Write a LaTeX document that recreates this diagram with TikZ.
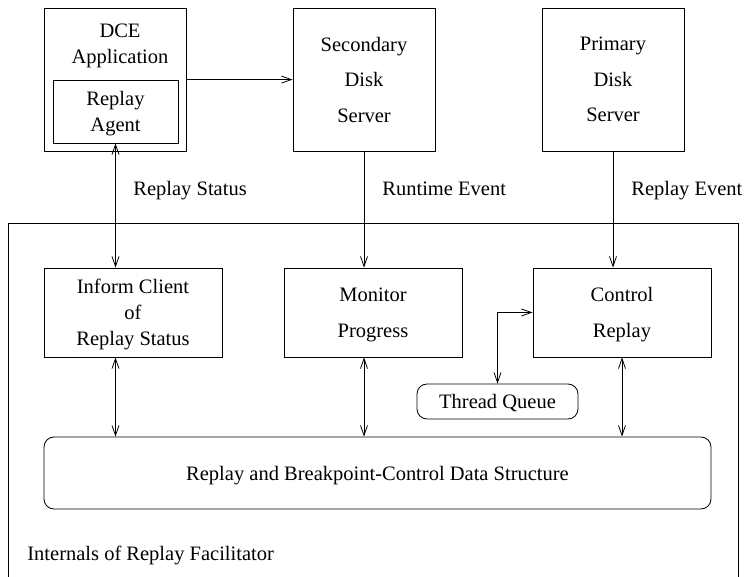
\documentclass[tikz,border=0pt]{standalone}
\usepackage{fontspec}
\setmainfont{Liberation Serif}
\usetikzlibrary{arrows.meta}
\newcommand\tightfont{\fontsize{20.5}{26}\selectfont}
\newcommand\widefont{\fontsize{20.5}{35.5}\selectfont}
\begin{document}
\begin{tikzpicture}[x=1pt,y=-1pt,
  >={Straight Barb[length=10pt,width=7pt,line width=0.8pt]},
  every path/.style={line width=0.8pt},
  box/.style={draw,inner sep=0pt,align=center,text depth=0pt,font=\widefont},
  tbox/.style={box,font=\tightfont},
  rbox/.style={box,rounded corners=10pt,font=\tightfont},
  lbl/.style={inner sep=0pt,anchor=base west,font=\tightfont},
  conn/.style={->},
  biconn/.style={<->}]
\useasboundingbox (0,0) rectangle (750,577);
% outer frame (internals of replay facilitator)
\draw (8,600) -- (8,223) -- (738,223) -- (738,600);
% top row
\node[box,minimum width=142pt,minimum height=143pt] (dce) at (115,79.5) {};
\node[inner sep=0pt,align=center,text depth=0pt,font=\tightfont] (dcetext) at (120,44) {DCE\\Application};
\node[tbox,minimum width=125pt,minimum height=63pt] (agent) at (115.5,111.5) {Replay\\Agent};
\node[box,minimum width=142pt,minimum height=143pt] (sec) at (364,79.5) {Secondary\\Disk\\Server};
\node[box,minimum width=142pt,minimum height=143pt] (pri) at (613,79.5) {Primary\\Disk\\Server};
% middle row
\node[tbox,minimum width=178pt,minimum height=89pt] (inform) at (133,312.5) {Inform Client\\of\\Replay Status};
\node[box,minimum width=178pt,minimum height=89pt] (mon) at (373,312.5) {Monitor\\Progress};
\node[box,minimum width=178pt,minimum height=89pt] (ctl) at (622,312.5) {Control\\Replay};
\node[rbox,minimum width=161pt,minimum height=35pt] (thread) at (497.5,401.5) {Thread Queue};
\node[rbox,minimum width=667pt,minimum height=72pt] (data) at (377.5,473) {Replay and Breakpoint-Control Data Structure};
% labels
\node[lbl] (lstatus) at (133,196) {Replay Status};
\node[lbl] (lruntime) at (382,196) {Runtime Event};
\node[lbl] (lreplay) at (631,196) {Replay Event};
\node[lbl] (linternals) at (27,560) {Internals of Replay Facilitator};
% connectors
\draw[conn] (dce.east |- agent.north) -- (sec.west |- agent.north);
\draw[biconn] (agent.south) -- (agent.south |- inform.north);
\draw[conn] (sec.south) -- (sec.south |- mon.north);
\draw[conn] (pri.south) -- (pri.south |- ctl.north);
\draw[biconn] (inform.south -| agent.south) -- (data.north -| agent.south);
\draw[biconn] (mon.south -| sec.south) -- (data.north -| sec.south);
\draw[biconn] (ctl.south) -- (ctl.south |- data.north);
\draw[biconn] (ctl.west) -| (thread.north);
\end{tikzpicture}
\end{document}
